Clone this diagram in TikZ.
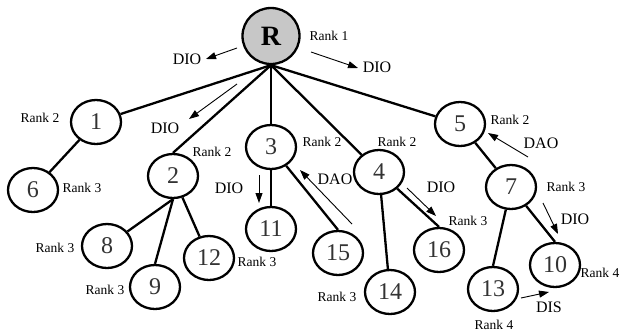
\documentclass[tikz,border=0pt]{standalone}
\usepackage{fontspec}
\setmainfont{Liberation Serif}
\usetikzlibrary{shapes.geometric,arrows.meta}
\begin{document}
\begin{tikzpicture}[x=1pt,y=-1pt,
 vtx/.style={ellipse,draw,line width=2.3pt,minimum width=50pt,minimum height=44pt,inner sep=0pt,text=black!80,font=\fontsize{24}{24}\selectfont},
 root/.style={vtx,fill=black!22,text=black,minimum width=57pt,minimum height=56pt,font=\fontsize{28}{28}\selectfont\bfseries},
 rank/.style={font=\fontsize{13.5}{14}\selectfont,inner sep=0pt},
 msg/.style={font=\fontsize{16}{16}\selectfont,inner sep=0pt},
 edge/.style={line width=2.3pt},
 flow/.style={line width=0.9pt,-{Triangle[length=10pt,width=7pt]}}]
\fill[white] (0,0) rectangle (621,333);
\useasboundingbox (0,0) rectangle (621,333);
% nodes
\node[root] (R) at (271,36) {R};
\node[vtx] (n1) at (96,122) {1};
\node[vtx] (n2) at (173,176) {2};
\node[vtx] (n3) at (271,147) {3};
\node[vtx] (n4) at (379,172) {4};
\node[vtx] (n5) at (460,124) {5};
\node[vtx] (n6) at (33,190) {6};
\node[vtx] (n7) at (511,187) {7};
\node[vtx] (n8) at (107,246) {8};
\node[vtx] (n9) at (155,287) {9};
\node[vtx] (n12) at (209,258) {12};
\node[vtx] (n11) at (271,229) {11};
\node[vtx] (n15) at (338,253) {15};
\node[vtx] (n16) at (439,250) {16};
\node[vtx] (n14) at (390,292) {14};
\node[vtx] (n13) at (493,289) {13};
\node[vtx] (n10) at (555,265) {10};
% edges
\draw[edge] (R.south) -- (n1);
\draw[edge] (R.south) -- (n2.north);
\draw[edge] (R.south) -- (n3);
\draw[edge] (R.south) -- (n4);
\draw[edge] (R.south) -- (n5);
\draw[edge] (n1) -- (n6);
\draw[edge] (n2.south) -- (n8);
\draw[edge] (n2.south) -- (n9.north);
\draw[edge] (n2) -- (n12);
\draw[edge] (n3) -- (n11);
\draw[edge] (n3) -- (n15.north);
\draw[edge] (n4) -- (n14);
\draw[edge] (n4) -- (n16.north);
\draw[edge] (n5) -- (n7);
\draw[edge] (n7) -- (n13.north);
\draw[edge] (n7) -- (n10.north);
% rank labels
\node[rank] (r1) at (329,36) {Rank 1};
\node[rank] (r2a) at (40,118) {Rank 2};
\node[rank] (r2b) at (212,152) {Rank 2};
\node[rank] (r2c) at (322,142) {Rank 2};
\node[rank] (r2d) at (397,142) {Rank 2};
\node[rank] (r2e) at (510,120) {Rank 2};
\node[rank] (r3a) at (82,188) {Rank 3};
\node[rank] (r3b) at (55,248) {Rank 3};
\node[rank] (r3c) at (105,290) {Rank 3};
\node[rank] (r3d) at (257,262) {Rank 3};
\node[rank] (r3e) at (468,221) {Rank 3};
\node[rank] (r3f) at (337,297) {Rank 3};
\node[rank] (r3g) at (566,187) {Rank 3};
\node[rank] (r4a) at (600,273) {Rank 4};
\node[rank] (r4b) at (494,325) {Rank 4};
% message labels
\node[msg] (m1) at (187,59) {DIO};
\node[msg] (m2) at (377,67) {DIO};
\node[msg] (m3) at (165,128) {DIO};
\node[msg] (m4) at (541,143) {DAO};
\node[msg] (m5) at (229,188) {DIO};
\node[msg] (m6) at (335,179) {DAO};
\node[msg] (m7) at (441,187) {DIO};
\node[msg] (m8) at (575,219) {DIO};
\node[msg] (m9) at (549,307) {DIS};
% message arrows
\coordinate (a1s) at (237,48); \coordinate (a1e) at (206,59);
\coordinate (a2s) at (311,52); \coordinate (a2e) at (358,68);
\coordinate (a3s) at (237,84); \coordinate (a3e) at (189,119);
\coordinate (a4s) at (528,157); \coordinate (a4e) at (488,133);
\coordinate (a5s) at (259,175); \coordinate (a5e) at (259,203);
\coordinate (a6s) at (352,224); \coordinate (a6e) at (300,170);
\coordinate (a7s) at (407,188); \coordinate (a7e) at (436,216);
\coordinate (a8s) at (543,203); \coordinate (a8e) at (558,234);
\coordinate (a9s) at (521,298); \coordinate (a9e) at (549,292);
\foreach \i in {1,...,9} \draw[flow] (a\i s) -- (a\i e);
\end{tikzpicture}
\end{document}
